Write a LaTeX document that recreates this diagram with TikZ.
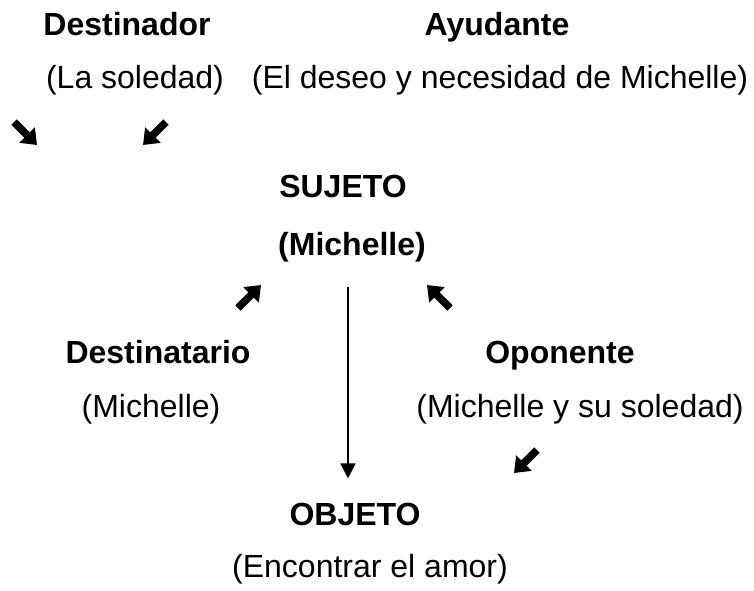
\documentclass[tikz,border=0pt]{standalone}
\usepackage{fontspec}
\setmainfont{Liberation Sans}
\usetikzlibrary{positioning,arrows.meta}
\tikzset{
  actant/.style = {inner sep=0pt, anchor=base, font=\fontsize{32}{36}\selectfont\bfseries},% actante, en negrita
  papel/.style = {inner sep=0pt, anchor=base, font=\fontsize{32}{36}\selectfont},% quien lo ocupa
  gruesa/.style = {line width=7.5pt, -{Triangle[width=21pt,length=14pt]}}% flecha gruesa
}
\begin{document}
\begin{tikzpicture}[x=1pt,y=-1pt]
\useasboundingbox (0,0) rectangle (754,590);
\node [actant] (dest) at (127,35) {Destinador};
\node [papel] (dest_p) at (135,88) {(La soledad)};
\node [actant] (ayu) at (497,35) {Ayudante};
\node [papel] (ayu_p) at (500,88) {(El deseo y necesidad de Michelle)};
\node [actant] (suj) at (343,197) {SUJETO};
\node [actant] (suj_p) at (352,255) {(Michelle)};
\node [actant] (dtario) at (158,363) {Destinatario};
\node [papel] (dtario_p) at (151,417) {(Michelle)};
\node [actant] (opo) at (560,363) {Oponente};
\node [papel] (opo_p) at (580,417) {(Michelle y su soledad)};
\node [actant] (obj) at (355,525) {OBJETO};
\node [papel] (obj_p) at (370,577) {(Encontrar el amor)};
% flechas sueltas
\coordinate (f1a) at (14,122);  \coordinate (f1b) at (37,145);
\coordinate (f2a) at (166,122); \coordinate (f2b) at (143,145);
\coordinate (f3a) at (238,308); \coordinate (f3b) at (261,285);
\coordinate (f4a) at (450,308); \coordinate (f4b) at (427,285);
\coordinate (f5a) at (537,450); \coordinate (f5b) at (514,473);
\foreach \f in {f1,f2,f3,f4,f5}
  \draw [gruesa] (\f a) -- (\f b);
% sujeto -> objeto
\coordinate (lin) at (348,287);
\draw [line width=1.6pt, -{Triangle[width=15pt,length=15pt]}]
  (lin) -- (lin |- obj.north) [shorten >=24pt];
\end{tikzpicture}
\end{document}
